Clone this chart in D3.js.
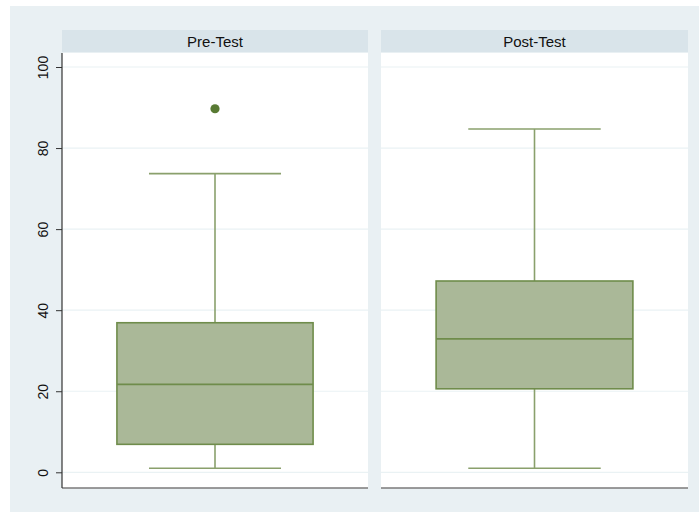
<!DOCTYPE html>
<html>
<head>
<meta charset="utf-8">
<script src="https://cdn.jsdelivr.net/npm/d3@7"></script>
<style>
  html, body { margin: 0; padding: 0; background: #ffffff; }
  svg { display: block; font-family: "Liberation Sans", Arial, Helvetica, sans-serif; }
</style>
</head>
<body>
<svg id="chart" width="699" height="512"></svg>
<script>
// Test scores by phase: five-number summaries plus outliers
const groups = ["Pre-Test", "Post-Test"];
const lowerWhisker = [1, 1];
const q1 = [6.9, 20.6];
const median = [21.7, 32.9];
const q3 = [36.9, 47.2];
const upperWhisker = [73.7, 84.7];
const outliers = [[89.7], []];
const yTicks = [0, 20, 40, 60, 80, 100];

const svg = d3.select("#chart");

// page background
svg.append("rect").attr("x", 10).attr("y", 6).attr("width", 689).attr("height", 506)
  .attr("fill", "#e9f0f3");

const panelTop = 53, panelBottom = 488;
const panels = [{ x0: 62, x1: 368 }, { x0: 381, x1: 688 }];

const y = d3.scaleLinear().domain([0, 100]).range([472.3, 67]);

const fill = "#aab898", stroke = "#6f8c4b", whisk = "#8aa06c", dot = "#587a33";

groups.forEach((g, i) => {
  const p = panels[i];
  const w = p.x1 - p.x0;
  const x = d3.scaleBand().domain([g]).range([p.x0, p.x1]).paddingInner(0).paddingOuter(0.28);
  const cx = x(g) + x.bandwidth() / 2;
  const bw = x.bandwidth();
  const capW = bw * 0.673;

  const gp = svg.append("g");

  // strip header
  gp.append("rect").attr("x", p.x0).attr("y", 30).attr("width", w).attr("height", 22)
    .attr("fill", "#d9e4ea");
  gp.append("text").attr("x", (p.x0 + p.x1) / 2).attr("y", 46.5)
    .attr("text-anchor", "middle").attr("font-size", 15).attr("fill", "#111")
    .text(g);

  // plot area
  gp.append("rect").attr("x", p.x0).attr("y", panelTop).attr("width", w)
    .attr("height", panelBottom - panelTop).attr("fill", "#ffffff");

  // gridlines
  gp.selectAll("line.grid").data(yTicks).join("line")
    .attr("x1", p.x0).attr("x2", p.x1)
    .attr("y1", d => y(d)).attr("y2", d => y(d))
    .attr("stroke", "#eaf2f4").attr("stroke-width", 1.2);

  // whiskers
  gp.append("line").attr("x1", cx).attr("x2", cx)
    .attr("y1", y(q3[i])).attr("y2", y(upperWhisker[i]))
    .attr("stroke", whisk).attr("stroke-width", 1.6);
  gp.append("line").attr("x1", cx).attr("x2", cx)
    .attr("y1", y(q1[i])).attr("y2", y(lowerWhisker[i]))
    .attr("stroke", whisk).attr("stroke-width", 1.6);
  [upperWhisker[i], lowerWhisker[i]].forEach(v => {
    gp.append("line").attr("x1", cx - capW / 2).attr("x2", cx + capW / 2)
      .attr("y1", y(v)).attr("y2", y(v))
      .attr("stroke", whisk).attr("stroke-width", 1.6);
  });

  // box
  gp.append("rect").attr("x", x(g)).attr("y", y(q3[i]))
    .attr("width", bw).attr("height", y(q1[i]) - y(q3[i]))
    .attr("fill", fill).attr("stroke", stroke).attr("stroke-width", 1.6);
  gp.append("line").attr("x1", x(g)).attr("x2", x(g) + bw)
    .attr("y1", y(median[i])).attr("y2", y(median[i]))
    .attr("stroke", stroke).attr("stroke-width", 1.8);

  // outliers
  gp.selectAll("circle").data(outliers[i]).join("circle")
    .attr("cx", cx).attr("cy", d => y(d)).attr("r", 4.6).attr("fill", dot);

  // bottom axis line
  gp.append("line").attr("x1", p.x0).attr("x2", p.x1)
    .attr("y1", panelBottom).attr("y2", panelBottom)
    .attr("stroke", "#7a7a7a").attr("stroke-width", 1.4);
});

// y axis
const yAxis = d3.axisLeft(y).tickValues(yTicks).tickSize(6).tickPadding(4);
const ga = svg.append("g").attr("transform", "translate(62,0)").call(yAxis);
ga.select(".domain").remove();
ga.append("line").attr("x1", 0).attr("x2", 0).attr("y1", panelTop).attr("y2", panelBottom)
  .attr("stroke", "#333").attr("stroke-width", 1.2);
ga.selectAll(".tick line").attr("stroke", "#333").attr("stroke-width", 1);
ga.selectAll(".tick text")
  .attr("font-size", 14).attr("fill", "#111")
  .attr("font-family", "'Liberation Sans', Arial, sans-serif")
  .attr("text-anchor", "middle").attr("dy", 0).attr("x", 0).attr("y", 0)
  .attr("transform", "translate(-18,0) rotate(-90)")
  .attr("dominant-baseline", "middle");
</script>
</body>
</html>
